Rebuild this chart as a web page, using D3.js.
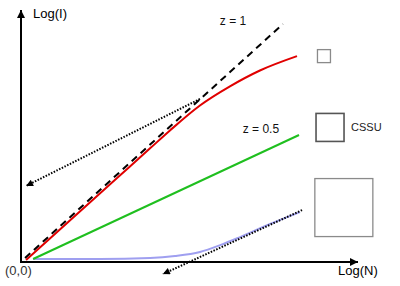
<!DOCTYPE html>
<html>
<head>
<meta charset="utf-8">
<script src="https://cdn.jsdelivr.net/npm/d3@7"></script>
<style>
  body { margin: 0; background: #fff; }
  svg { font-family: "Liberation Sans", Arial, sans-serif; }
</style>
</head>
<body>
<svg id="chart" width="400" height="286"></svg>
<script>
// values in (logN, logI) units
const zOne = [[0.12, 0.16], [7.77, 9.44]];
const redCurve = [[0.15, 0.08], [2.85, 3.33], [3.83, 4.51], [4.42, 5.22], [5.31, 6.21],
                  [6.20, 6.97], [7.09, 7.60], [8.19, 8.17]];
const greenLine = [[0.36, 0.12], [8.25, 5.04]];
const purpleCurve = [[0.36, 0.12], [2.34, 0.12], [3.83, 0.16], [4.57, 0.24], [5.31, 0.40],
                     [5.91, 0.67], [6.50, 0.99], [7.39, 1.51], [8.28, 1.98]];
const arrows = [
    [[5.31, 6.47], [0.15, 3.02]],
    [[8.34, 2.06], [4.21, -0.48]]
];
// squares: centre in data units, side in px
const squares = [
    {x: 8.99, y: 8.17, side: 13, label: ''},
    {x: 9.17, y: 5.34, side: 28, label: 'CSSU'},
    {x: 9.58, y: 2.16, side: 58, label: ''}
];
const zLabels = [{x: 5.9, y: 9.4, text: 'z = 1'}, {x: 6.58, y: 5.1, text: 'z = 0.5'}];

const svg = d3.select('#chart');

const xScale = d3.scaleLinear().domain([0, 10]).range([21, 358]);
const yScale = d3.scaleLinear().domain([0, 10]).range([262, 10]);

const defs = svg.append('defs');
defs.append('marker').attr('id', 'axisHead')
    .attr('viewBox', '0 0 10 10').attr('refX', 10).attr('refY', 5)
    .attr('markerWidth', 10).attr('markerHeight', 8)
    .attr('markerUnits', 'userSpaceOnUse')
    .attr('orient', 'auto')
    .append('path').attr('d', 'M0,0L10,5L0,10Z').attr('fill', '#000');
defs.append('marker').attr('id', 'dotHead')
    .attr('viewBox', '0 0 10 10').attr('refX', 10).attr('refY', 5)
    .attr('markerWidth', 9).attr('markerHeight', 7)
    .attr('markerUnits', 'userSpaceOnUse')
    .attr('orient', 'auto')
    .append('path').attr('d', 'M0,0L10,5L0,10Z').attr('fill', '#000');

// axes
svg.append('line')
    .attr('x1', xScale(0)).attr('y1', yScale(0) + 1)
    .attr('x2', xScale(0)).attr('y2', yScale(10))
    .attr('stroke', '#000').attr('stroke-width', 2)
    .attr('marker-end', 'url(#axisHead)');
svg.append('line')
    .attr('x1', xScale(0) - 1).attr('y1', yScale(0))
    .attr('x2', xScale(10)).attr('y2', yScale(0))
    .attr('stroke', '#000').attr('stroke-width', 2)
    .attr('marker-end', 'url(#axisHead)');

svg.append('text').attr('x', 33).attr('y', 18).attr('font-size', 13).text('Log(I)');
svg.append('text').attr('x', 338).attr('y', 275).attr('font-size', 13).text('Log(N)');
svg.append('text').attr('x', 5).attr('y', 275).attr('font-size', 13).attr('fill', '#333').text('(0,0)');

const line = d3.line().x(d => xScale(d[0])).y(d => yScale(d[1]));
const curve = d3.line().x(d => xScale(d[0])).y(d => yScale(d[1])).curve(d3.curveMonotoneX);

svg.append('path').datum(purpleCurve).attr('d', curve)
    .attr('fill', 'none').attr('stroke', '#9f9ff0').attr('stroke-width', 2);
svg.append('path').datum(greenLine).attr('d', line)
    .attr('fill', 'none').attr('stroke', '#1fbf1f').attr('stroke-width', 2);
svg.append('path').datum(redCurve).attr('d', curve)
    .attr('fill', 'none').attr('stroke', '#e00000').attr('stroke-width', 2);
svg.append('path').datum(zOne).attr('d', line)
    .attr('fill', 'none').attr('stroke', '#000').attr('stroke-width', 2)
    .attr('stroke-dasharray', '7,5');

svg.selectAll('.arrow').data(arrows).enter().append('path')
    .attr('class', 'arrow')
    .attr('d', line)
    .attr('fill', 'none').attr('stroke', '#000').attr('stroke-width', 2)
    .attr('stroke-dasharray', '1.5,1.5')
    .attr('marker-end', 'url(#dotHead)');

svg.selectAll('.zlab').data(zLabels).enter().append('text')
    .attr('class', 'zlab')
    .attr('x', d => xScale(d.x)).attr('y', d => yScale(d.y))
    .attr('font-size', 12).attr('fill', '#111')
    .text(d => d.text);

svg.selectAll('.sq').data(squares).enter().append('rect')
    .attr('class', 'sq')
    .attr('x', d => xScale(d.x) - d.side / 2)
    .attr('y', d => yScale(d.y) - d.side / 2)
    .attr('width', d => d.side).attr('height', d => d.side)
    .attr('fill', 'none')
    .attr('stroke', d => d.label ? '#555' : '#8a8a8a')
    .attr('stroke-width', d => d.label ? 1.6 : 1.3);

svg.selectAll('.sqlab').data(squares.filter(d => d.label)).enter().append('text')
    .attr('class', 'sqlab')
    .attr('x', d => xScale(d.x) + d.side / 2 + 7)
    .attr('y', d => yScale(d.y) + 4)
    .attr('font-size', 11).attr('fill', '#222')
    .text(d => d.label);
</script>
</body>
</html>
